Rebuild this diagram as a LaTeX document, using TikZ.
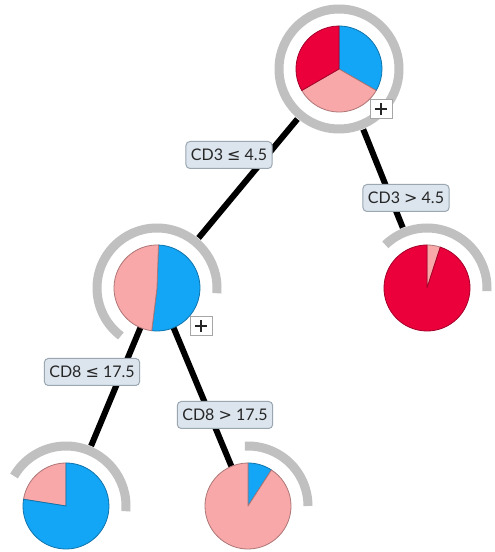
\documentclass[tikz,border=0pt]{standalone}
\usepackage{fontspec}
\setmainfont{Lato}
\newfontfamily\symf{DejaVu Sans}
\definecolor{pred}{HTML}{EC003C}
\definecolor{pblue}{HTML}{14A6F6}
\definecolor{ppink}{HTML}{F8A8A8}
\definecolor{ringgray}{HTML}{C0C0C0}
\definecolor{lblfill}{HTML}{DCE5EE}
\definecolor{lbldraw}{HTML}{9AA6B0}
\newcommand{\pieslice}[4]{%
  \filldraw[fill=#4, draw=#4!70!black, line width=0.8pt, line join=round]
    (#1) -- ++(#2:43pt) arc[start angle=#2, end angle=#3, radius=43pt] -- cycle;}
\newcommand{\ringarc}[3]{%
  \draw[white, line width=22pt] (#1) ++(#2:54pt) arc[start angle=#2, end angle=#3, radius=54pt];
  \draw[ringgray, line width=9pt] (#1) ++(#2:60pt) arc[start angle=#2, end angle=#3, radius=60pt];}
\tikzset{
  edge/.style={line width=6pt, black},
  lbl/.style={draw=lbldraw, fill=lblfill, rounded corners=4pt, line width=1pt,
    inner xsep=5pt, minimum height=27pt, text=black!85,
    font=\fontsize{16}{16}\selectfont},
  plusbox/.style={draw=gray!70, fill=white, minimum width=22pt, minimum height=19pt, inner sep=0pt, line width=0.8pt,
    path picture={
      \draw[line width=2.6pt, black!85] ([xshift=-6pt]path picture bounding box.center) -- ([xshift=6pt]path picture bounding box.center);
      \draw[line width=2.6pt, black!85] ([yshift=-6pt]path picture bounding box.center) -- ([yshift=6pt]path picture bounding box.center);}}
}
\begin{document}
\begin{tikzpicture}[x=1pt,y=1pt]
\fill[white] (0,0) rectangle (495,552);
\useasboundingbox (0,0) rectangle (495,552);
\coordinate (root) at (339,483);
\coordinate (L) at (157,264);
\coordinate (R) at (427,264);
\coordinate (LL) at (66,46);
\coordinate (LR) at (248,46);
% edges
\draw[edge] (root) -- (L);
\draw[edge] (root) -- (R);
\draw[edge] (L) -- (LL);
\draw[edge] (L) -- (LR);
% root
\fill[white] (root) circle (65pt);
\draw[ringgray, line width=9pt] (root) circle (60pt);
\pieslice{root}{90}{-30}{pblue}
\pieslice{root}{-30}{-150}{ppink}
\pieslice{root}{210}{90}{pred}
% left child
\ringarc{L}{-5}{233}
\pieslice{L}{88}{-97}{pblue}
\pieslice{L}{88}{263}{ppink}
% right child
\ringarc{R}{-3}{134}
\pieslice{R}{90}{72}{ppink}
\pieslice{R}{72}{-270}{pred}
% bottom left
\ringarc{LL}{-5}{150}
\pieslice{LL}{90}{171}{ppink}
\pieslice{LL}{171}{450}{pblue}
% bottom right
\ringarc{LR}{0}{93}
\pieslice{LR}{90}{57}{pblue}
\pieslice{LR}{57}{-270}{ppink}
% labels
\node[lbl] (l1) at (229,397) {CD3 {\symf ≤} 4.5};
\node[lbl] (l2) at (406,354) {CD3 {\symf >} 4.5};
\node[lbl] (l3) at (92,180) {CD8 {\symf ≤} 17.5};
\node[lbl] (l4) at (225,137) {CD8 {\symf >} 17.5};
% plus boxes
\node[plusbox] (p1) at (381,443) {};
\node[plusbox] (p2) at (201,226) {};
\end{tikzpicture}
\end{document}
